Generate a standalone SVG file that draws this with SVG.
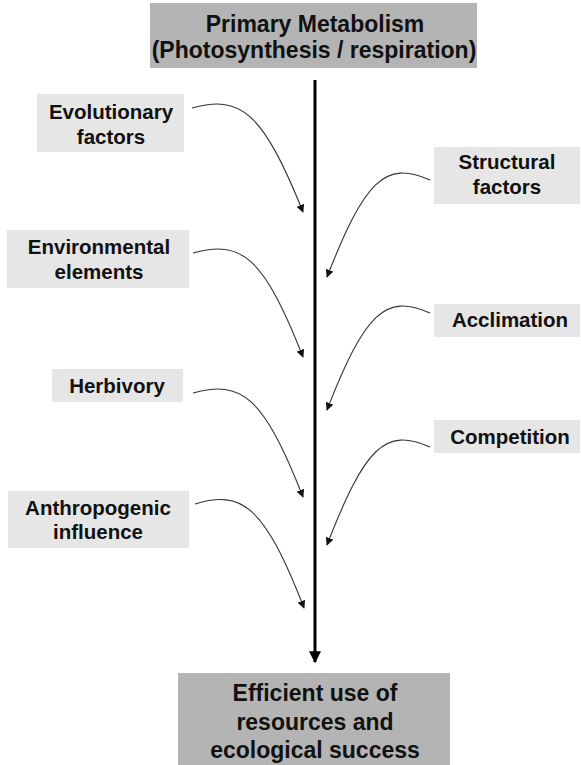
<svg xmlns="http://www.w3.org/2000/svg" width="581" height="765" viewBox="0 0 581 765">
<style>
text{font-family:"Liberation Sans",Arial,sans-serif;font-weight:bold;fill:#111;text-anchor:middle}
.dark{fill:#b4b4b4}
.light{fill:#e6e6e6}
.t1{font-size:23px}
.t2{font-size:20.5px}
.c{fill:none;stroke:#333;stroke-width:1.1}
</style>
<defs>
<marker id="ah" viewBox="0 0 10 10" refX="9" refY="5" markerWidth="8" markerHeight="8" markerUnits="userSpaceOnUse" orient="auto"><path d="M0,0 L10,5 L0,10 z" fill="#111"/></marker>
<marker id="big" viewBox="0 0 10 10" refX="9" refY="5" markerWidth="12" markerHeight="12" markerUnits="userSpaceOnUse" orient="auto"><path d="M0,0 L10,5 L0,10 z" fill="#000"/></marker>
</defs>
<rect width="581" height="765" fill="#fff"/>
<g id="top"><rect class="dark" x="150" y="3" width="327" height="65"/><text class="t1" x="315" y="32">Primary Metabolism</text><text class="t1" x="314" y="58">(Photosynthesis / respiration)</text></g>
<g id="bottom"><rect class="dark" x="178" y="673" width="272" height="92"/><text class="t1" x="315" y="701">Efficient use of</text><text class="t1" x="315" y="730">resources and</text><text class="t1" x="315" y="758">ecological success</text></g>
<g id="evolutionary"><rect class="light" x="37" y="94" width="147" height="58"/><text class="t2" x="111" y="119">Evolutionary</text><text class="t2" x="111" y="144">factors</text></g>
<g id="environmental"><rect class="light" x="7" y="230" width="182" height="58"/><text class="t2" x="99" y="254">Environmental</text><text class="t2" x="99" y="279">elements</text></g>
<g id="herbivory"><rect class="light" x="52" y="369" width="131" height="33"/><text class="t2" x="117" y="393">Herbivory</text></g>
<g id="anthropogenic"><rect class="light" x="8" y="491" width="181" height="57"/><text class="t2" x="98" y="515">Anthropogenic</text><text class="t2" x="98" y="539">influence</text></g>
<g id="structural"><rect class="light" x="434" y="147" width="146" height="57"/><text class="t2" x="507" y="169">Structural</text><text class="t2" x="507" y="194">factors</text></g>
<g id="acclimation"><rect class="light" x="434" y="304" width="146" height="33"/><text class="t2" x="510" y="327">Acclimation</text></g>
<g id="competition"><rect class="light" x="434" y="420" width="146" height="33"/><text class="t2" x="510" y="444">Competition</text></g>
<g id="connectors">
<line x1="315" y1="80" x2="315" y2="662" stroke="#000" stroke-width="3" marker-end="url(#big)"/>
<path class="c" d="M192,108 C240,95 262,110 303,212" marker-end="url(#ah)"/>
<path class="c" d="M193,253 C241,240 263,255 303,357" marker-end="url(#ah)"/>
<path class="c" d="M193,393 C241,380 263,395 303,497" marker-end="url(#ah)"/>
<path class="c" d="M195,504 C242,490 264,505 304,608" marker-end="url(#ah)"/>
<path class="c" d="M430,180 C385,160 365,180 327,277" marker-end="url(#ah)"/>
<path class="c" d="M430,313 C385,293 365,313 327,410" marker-end="url(#ah)"/>
<path class="c" d="M430,447 C385,427 365,447 327,545" marker-end="url(#ah)"/>
</g>
</svg>
